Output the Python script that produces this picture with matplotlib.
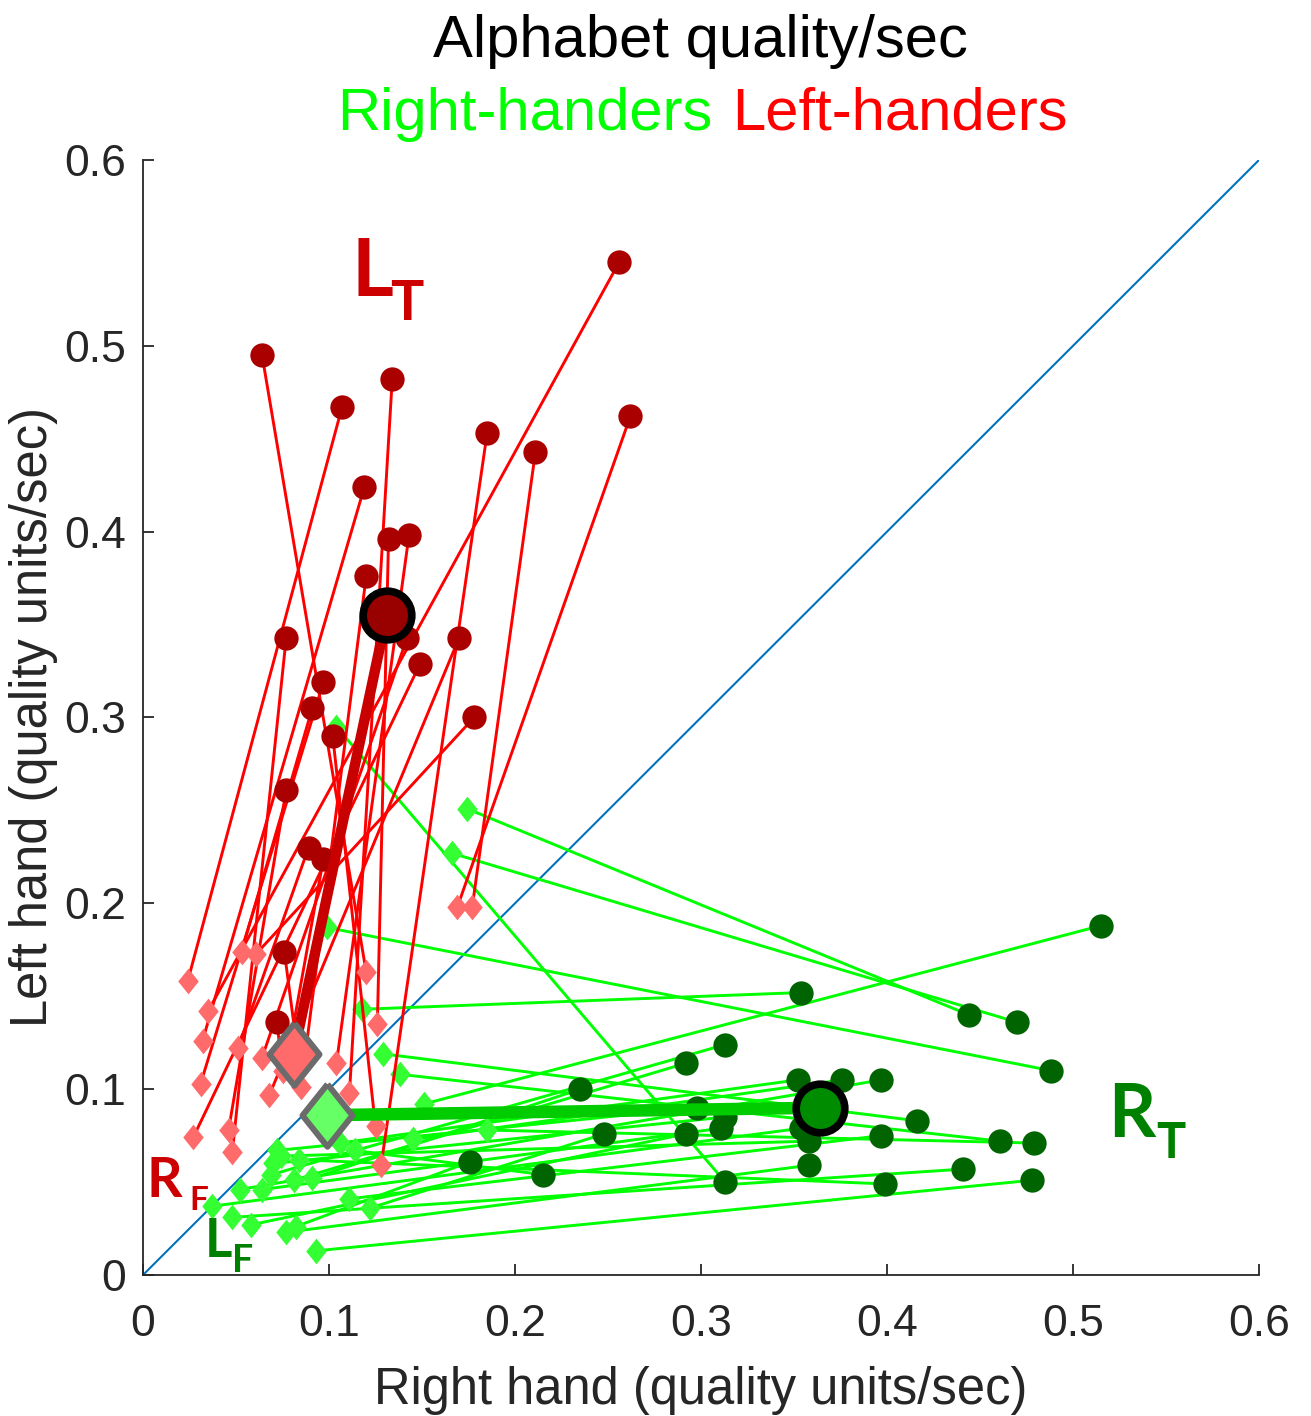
import numpy as np
import matplotlib.pyplot as plt
from matplotlib.markers import MarkerStyle

plt.rcParams['font.family'] = ['Liberation Sans', 'DejaVu Sans']

# Left-handers: start of training (diamond) -> end of training (circle)
lh_start_x = [0.035, 0.120, 0.111, 0.024, 0.169, 0.128, 0.177, 0.032, 0.104, 0.126, 0.085, 0.048,
              0.068, 0.064, 0.027, 0.031, 0.053, 0.125, 0.061, 0.046, 0.051, 0.079, 0.084, 0.075]
lh_start_y = [0.142, 0.163, 0.098, 0.158, 0.198, 0.059, 0.198, 0.126, 0.114, 0.135, 0.101, 0.066,
              0.097, 0.117, 0.074, 0.103, 0.174, 0.080, 0.173, 0.078, 0.122, 0.124, 0.113, 0.110]
lh_end_x = [0.256, 0.064, 0.134, 0.107, 0.262, 0.185, 0.211, 0.119, 0.143, 0.132, 0.120, 0.077,
            0.170, 0.142, 0.149, 0.097, 0.091, 0.102, 0.178, 0.077, 0.089, 0.097, 0.076, 0.072]
lh_end_y = [0.545, 0.495, 0.482, 0.467, 0.462, 0.453, 0.443, 0.424, 0.398, 0.396, 0.376, 0.343,
            0.343, 0.343, 0.329, 0.319, 0.305, 0.290, 0.300, 0.261, 0.230, 0.224, 0.174, 0.136]
lh_mean_start = (0.081, 0.119)
lh_mean_end = (0.131, 0.355)

# Right-handers
rh_start_x = [0.151, 0.118, 0.174, 0.166, 0.099, 0.104, 0.129, 0.138, 0.145, 0.185, 0.106, 0.072,
              0.070, 0.069, 0.081, 0.091, 0.052, 0.064, 0.111, 0.122, 0.037, 0.048, 0.058, 0.077,
              0.082, 0.093, 0.074, 0.084, 0.114]
rh_start_y = [0.092, 0.143, 0.251, 0.227, 0.187, 0.295, 0.119, 0.108, 0.073, 0.078, 0.071, 0.067,
              0.060, 0.054, 0.051, 0.052, 0.046, 0.046, 0.041, 0.036, 0.037, 0.031, 0.027, 0.023,
              0.026, 0.013, 0.064, 0.062, 0.067]
rh_end_x = [0.515, 0.354, 0.444, 0.470, 0.488, 0.313, 0.416, 0.461, 0.376, 0.479, 0.352, 0.298,
            0.313, 0.313, 0.292, 0.235, 0.397, 0.311, 0.397, 0.248, 0.354, 0.441, 0.292, 0.358,
            0.176, 0.478, 0.358, 0.399, 0.215]
rh_end_y = [0.188, 0.152, 0.140, 0.136, 0.110, 0.050, 0.083, 0.072, 0.105, 0.071, 0.105, 0.090,
            0.085, 0.124, 0.114, 0.100, 0.105, 0.079, 0.075, 0.076, 0.079, 0.057, 0.076, 0.059,
            0.061, 0.051, 0.072, 0.049, 0.054]
rh_mean_start = (0.099, 0.086)
rh_mean_end = (0.364, 0.090)

ticks = [0, 0.1, 0.2, 0.3, 0.4, 0.5, 0.6]
tick_labels = ['0', '0.1', '0.2', '0.3', '0.4', '0.5', '0.6']

# MATLAB-like diamond: a bit taller than wide, sharp corners
diamond = MarkerStyle([(0, 1), (0.8, 0), (0, -1), (-0.8, 0), (0, 1)], joinstyle='miter')

fig = plt.figure(figsize=(13.11, 14.16), dpi=100)
ax = fig.add_axes([0.10908, 0.09958, 0.85126, 0.78743])

ax.plot([0, 0.6], [0, 0.6], color='#0072BD', lw=1.5, zorder=1)

# right-handers
for sx, sy, ex, ey in zip(rh_start_x, rh_start_y, rh_end_x, rh_end_y):
    ax.plot([sx, ex], [sy, ey], color='#00FF00', lw=2.1, zorder=2)
ax.plot(rh_start_x, rh_start_y, ls='none', marker=diamond, ms=18.5, mew=0, color='#33FF33', zorder=3)
ax.plot(rh_end_x, rh_end_y, ls='none', marker='o', ms=17.5, mew=0, color='#006400', zorder=3)

# left-handers
for sx, sy, ex, ey in zip(lh_start_x, lh_start_y, lh_end_x, lh_end_y):
    ax.plot([sx, ex], [sy, ey], color='#FF0000', lw=2.1, zorder=4)
ax.plot(lh_start_x, lh_start_y, ls='none', marker=diamond, ms=18.5, mew=0, color='#FF6B6B', zorder=5)
ax.plot(lh_end_x, lh_end_y, ls='none', marker='o', ms=17.5, mew=0, color='#AA0000', zorder=5)

# group means
ax.plot([rh_mean_start[0], rh_mean_end[0]], [rh_mean_start[1], rh_mean_end[1]],
        color='#00CC00', lw=9, solid_capstyle='butt', zorder=6)
ax.plot([lh_mean_start[0], lh_mean_end[0]], [lh_mean_start[1], lh_mean_end[1]],
        color='#C80000', lw=7.5, solid_capstyle='butt', zorder=6)
ax.plot(*rh_mean_start, marker=diamond, ms=45, mfc='#66FF66', mec='#6B6B6B', mew=4.3, zorder=7)
ax.plot(*lh_mean_start, marker=diamond, ms=45, mfc='#FF6B6B', mec='#6B6B6B', mew=4.3, zorder=7)
ax.plot(*rh_mean_end, marker='o', ms=35, mfc='#008C00', mec='black', mew=5.5, zorder=7)
ax.plot(*lh_mean_end, marker='o', ms=35, mfc='#990000', mec='black', mew=5.5, zorder=7)

# condition labels
lbl = dict(family='Lato', weight='bold', ha='left', va='baseline')
ax.text(0.112, 0.527, 'L', fontsize=58, color='#CC0000', **lbl)
ax.text(0.133, 0.514, 'T', fontsize=40, color='#CC0000', **lbl)
ax.text(0.519, 0.074, 'R', fontsize=53, color='#008000', **lbl)
ax.text(0.545, 0.063, 'T', fontsize=35, color='#008000', **lbl)
ax.text(0.002, 0.042, 'R', fontsize=40, color='#CC0000', **lbl)
ax.text(0.025, 0.035, 'F', fontsize=24, color='#CC0000', **lbl)
ax.text(0.033, 0.0097, 'L', fontsize=38, color='#008000', **lbl)
ax.text(0.048, 0.0016, 'F', fontsize=27, color='#008000', **lbl)

ax.set_xlim(0, 0.6)
ax.set_ylim(0, 0.6)
ax.set_xticks(ticks)
ax.set_xticklabels(tick_labels)
ax.set_yticks(ticks)
ax.set_yticklabels(tick_labels)
for s in ['top', 'right']:
    ax.spines[s].set_visible(False)
for s in ['left', 'bottom']:
    ax.spines[s].set_color('#262626')
    ax.spines[s].set_linewidth(1.3)
ax.tick_params(direction='in', length=8, width=1.3, color='#262626',
               labelcolor='#262626', labelsize=32)
ax.tick_params(axis='x', pad=21)
ax.tick_params(axis='y', pad=12)

ax.set_xlabel('Right hand (quality units/sec)', fontsize=36.5, color='#262626')
ax.set_ylabel('Left hand (quality units/sec)', fontsize=36.5, color='#262626')
ax.xaxis.set_label_coords(0.5, -0.082)
ax.yaxis.set_label_coords(-0.076, 0.5)

fig.text(700 / 1311, 1 - 57 / 1416, 'Alphabet quality/sec', fontsize=43,
         ha='center', va='baseline', color='black')
fig.text(712 / 1311, 1 - 130 / 1416, 'Right-handers', fontsize=43,
         ha='right', va='baseline', color='#00FF00')
fig.text(732 / 1311, 1 - 130 / 1416, 'Left-handers', fontsize=43,
         ha='left', va='baseline', color='#FF0000')

fig.savefig('out.png', dpi=100)
